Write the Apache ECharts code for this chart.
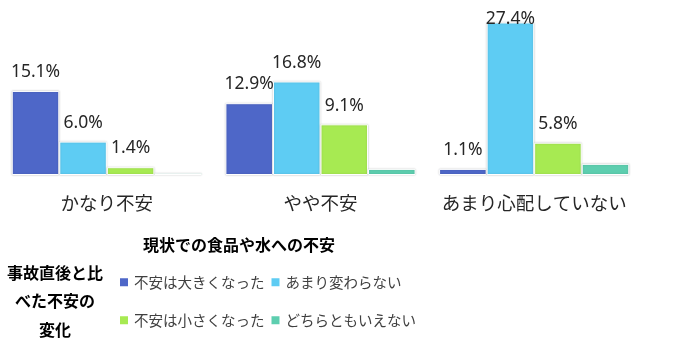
<!DOCTYPE html>
<html>
<head>
<meta charset="utf-8">
<script src="https://cdn.jsdelivr.net/npm/echarts@6/dist/echarts.min.js"></script>
<style>
  html, body { margin: 0; padding: 0; background: #ffffff; }
  #chart { width: 675px; height: 348px; }
</style>
</head>
<body>
<div id="chart"></div>
<script>
// 現状での食品や水への不安（カテゴリ）
const categories = ['かなり不安', 'やや不安', 'あまり心配していない'];

// 事故直後と比べた不安の変化（系列名）
const seriesNames = ['不安は大きくなった', 'あまり変わらない', '不安は小さくなった', 'どちらともいえない'];

// 各系列の割合（%）
const biggerValues   = [15.1, 12.9, 1.1];
const sameValues     = [6.0, 16.8, 27.4];
const smallerValues  = [1.4, 9.1, 5.8];
const neitherValues  = [0.3, 1.1, 2.0];

const colors = ['#4E67C8', '#5ECCF3', '#A7EA52', '#5DCEAF'];

const jpFont = '"Noto Sans CJK JP", "Noto Sans", sans-serif';
const numFont = '"Noto Sans", "Noto Sans CJK JP", sans-serif';

function makeSeries(name, values, color, showLabel) {
  return {
    name: name,
    type: 'bar',
    barGap: '0%',
    barCategoryGap: '11%',
    data: values.map(v => {
      const item = { value: v };
      // 上端に近い値のラベルは枠内に収める
      if (v > 25) item.label = { offset: [0, 15] };
      return item;
    }),
    itemStyle: {
      color: color,
      borderColor: '#ffffff',
      borderWidth: 1,
      shadowColor: 'rgba(0,0,0,0.18)',
      shadowBlur: 2,
      shadowOffsetX: 0,
      shadowOffsetY: 0
    },
    label: {
      show: showLabel,
      position: 'top',
      distance: 10,
      formatter: p => p.value.toFixed(1) + '%',
      fontFamily: numFont,
      fontSize: 17.5,
      color: '#262626'
    }
  };
}

const chart = echarts.init(document.getElementById('chart'), null, { renderer: 'canvas' });

chart.setOption({
  animation: false,
  backgroundColor: '#ffffff',
  grid: { left: 0, right: 34, top: 8, bottom: 173, containLabel: false },
  xAxis: {
    type: 'category',
    data: categories,
    axisLine: { show: false },
    axisTick: { show: false },
    axisLabel: {
      interval: 0,
      hideOverlap: false,
      margin: 19,
      fontFamily: jpFont,
      fontSize: 18.5,
      color: '#262626'
    }
  },
  yAxis: {
    type: 'value',
    min: 0,
    max: 30,
    show: false
  },
  legend: [
    {
      data: [seriesNames[0], seriesNames[1]],
      left: 118,
      top: 275,
      padding: 0,
      itemWidth: 10,
      itemHeight: 10,
      itemGap: 5,
      itemTextGap: 5,
      icon: 'rect',
      textStyle: { fontFamily: jpFont, fontSize: 14.5, color: '#404040' }
    },
    {
      data: [seriesNames[2], seriesNames[3]],
      left: 118,
      top: 313,
      padding: 0,
      itemWidth: 10,
      itemHeight: 10,
      itemGap: 5,
      itemTextGap: 5,
      icon: 'rect',
      textStyle: { fontFamily: jpFont, fontSize: 14.5, color: '#404040' }
    }
  ],
  graphic: [
    {
      type: 'text',
      x: 239,
      y: 245,
      style: {
        text: '現状での食品や水への不安',
        font: 'bold 16px ' + jpFont,
        fill: '#000000',
        align: 'center',
        verticalAlign: 'middle'
      }
    },
    {
      type: 'text',
      x: 55,
      y: 301,
      style: {
        text: '事故直後と比\nべた不安の\n変化',
        font: 'bold 16px ' + jpFont,
        fill: '#000000',
        align: 'center',
        verticalAlign: 'middle',
        lineHeight: 28.5
      }
    }
  ],
  series: [
    makeSeries(seriesNames[0], biggerValues, colors[0], true),
    makeSeries(seriesNames[1], sameValues, colors[1], true),
    makeSeries(seriesNames[2], smallerValues, colors[2], true),
    makeSeries(seriesNames[3], neitherValues, colors[3], false)
  ]
});
</script>
</body>
</html>
